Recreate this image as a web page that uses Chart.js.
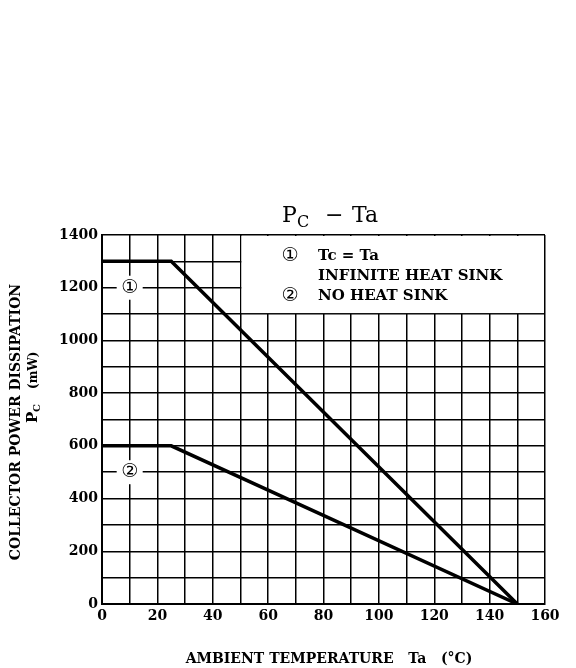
<!DOCTYPE html>
<html>
<head>
<meta charset="utf-8">
<script src="https://cdn.jsdelivr.net/npm/chart.js@4"></script>
<style>
  html, body { margin: 0; padding: 0; background: #fff; }
  #wrap { width: 576px; height: 668px; }
</style>
</head>
<body>
<div id="wrap"><canvas id="pc-chart" width="576" height="668"></canvas></div>
<script>
// curve 1: Tc = Ta, infinite heat sink ; curve 2: no heat sink
const tempInf = [0, 25, 150];
const pcInf = [1300, 1300, 0];
const tempNone = [0, 25, 150];
const pcNone = [600, 600, 0];
const xLabels = [0, 20, 40, 60, 80, 100, 120, 140, 160];
const yLabels = [0, 200, 400, 600, 800, 1000, 1200, 1400];

const SERIF = '"DejaVu Serif", "Liberation Serif", serif';
const CIRC = '"DejaVu Sans", "Noto Sans CJK JP", sans-serif';

function pts(xs, ys) {
  return xs.map((x, i) => ({ x: x, y: ys[i] }));
}

const decor = {
  id: 'decor',
  beforeDatasetsDraw(chart) {
    const ctx = chart.ctx;
    const xs = chart.scales.x, ys = chart.scales.y;
    ctx.save();
    // legend box covers grid from 50..160, 1100..1400
    const bx = xs.getPixelForValue(50), by = ys.getPixelForValue(1100);
    const r = xs.getPixelForValue(160), t = ys.getPixelForValue(1400);
    ctx.fillStyle = '#fff';
    ctx.fillRect(bx + 1, t + 1, r - bx - 2, by - t - 2);
    // gaps round the curve markers
    [[10, 1200], [10, 500]].forEach(p => {
      const px = xs.getPixelForValue(p[0]), py = ys.getPixelForValue(p[1]);
      ctx.fillRect(px - 13, py - 12, 26, 24);
    });
    ctx.fillStyle = '#000';
    ctx.textBaseline = 'middle';
    ctx.textAlign = 'center';
    ctx.font = '19px ' + CIRC;
    ctx.fillText('\u2460', xs.getPixelForValue(10), ys.getPixelForValue(1200));
    ctx.fillText('\u2461', xs.getPixelForValue(10), ys.getPixelForValue(500));
    // legend
    ctx.fillText('\u2460', 290, 256);
    ctx.fillText('\u2461', 290, 296);
    ctx.textAlign = 'left';
    ctx.font = 'bold 15px ' + SERIF;
    ctx.fillText('Tc = Ta', 318, 256);
    ctx.fillText('INFINITE HEAT SINK', 318, 276);
    ctx.fillText('NO HEAT SINK', 318, 296);
    ctx.restore();
  },
  afterDraw(chart) {
    const ctx = chart.ctx;
    ctx.save();
    ctx.fillStyle = '#000';
    ctx.textBaseline = 'alphabetic';
    // title P_C - Ta
    ctx.textAlign = 'left';
    ctx.font = '22px ' + SERIF;
    ctx.fillText('P', 282, 222);
    ctx.font = '16px ' + SERIF;
    ctx.fillText('C', 297, 227);
    ctx.font = '22px ' + SERIF;
    ctx.fillText('\u2212', 325, 222);
    ctx.fillText('Ta', 352, 222);
    // x axis title
    ctx.font = 'bold 14px ' + SERIF;
    ctx.textAlign = 'center';
    ctx.fillText('AMBIENT TEMPERATURE   Ta   (\u00b0C)', 329, 663);
    // y axis title
    ctx.save();
    ctx.translate(20, 422);
    ctx.rotate(-Math.PI / 2);
    ctx.fillText('COLLECTOR POWER DISSIPATION', 0, 0);
    ctx.restore();
    ctx.save();
    ctx.translate(37, 393);
    ctx.rotate(-Math.PI / 2);
    ctx.textAlign = 'left';
    ctx.font = 'bold 15px ' + SERIF;
    ctx.fillText('P', -30, 0);
    ctx.font = 'bold 10px ' + SERIF;
    ctx.fillText('C', -19, 3);
    ctx.font = 'bold 12px ' + SERIF;
    ctx.fillText('(mW)', 4, 0);
    ctx.restore();
    ctx.restore();
  }
};

const lineStyle = { borderColor: '#000', borderWidth: 3.5, pointRadius: 0, fill: false, tension: 0 };

new Chart(document.getElementById('pc-chart').getContext('2d'), {
  type: 'line',
  data: {
    datasets: [
      Object.assign({ label: 'Tc=Ta infinite heat sink', data: pts(tempInf, pcInf) }, lineStyle),
      Object.assign({ label: 'No heat sink', data: pts(tempNone, pcNone) }, lineStyle)
    ]
  },
  options: {
    responsive: false,
    animation: false,
    layout: { padding: { left: 0, top: 235, right: 31, bottom: 40 } },
    plugins: { legend: { display: false }, tooltip: { enabled: false } },
    scales: {
      x: {
        type: 'linear', min: 0, max: 160,
        afterFit: s => { s.height = 24; },
        border: { color: '#000', width: 2 },
        grid: { color: '#000', lineWidth: 1.5, drawTicks: false },
        ticks: {
          stepSize: 10, color: '#000', padding: 4, maxRotation: 0, autoSkip: false,
          font: { family: SERIF, size: 14, weight: 'bold' },
          callback: v => xLabels.includes(v) ? String(v) : ''
        }
      },
      y: {
        min: 0, max: 1400,
        afterFit: s => { s.width = 102; },
        border: { color: '#000', width: 2 },
        grid: { color: '#000', lineWidth: 1.5, drawTicks: false },
        ticks: {
          stepSize: 100, color: '#000', padding: 4, autoSkip: false,
          font: { family: SERIF, size: 14, weight: 'bold' },
          callback: v => yLabels.includes(v) ? String(v) : ''
        }
      }
    }
  },
  plugins: [decor]
});
</script>
</body>
</html>
